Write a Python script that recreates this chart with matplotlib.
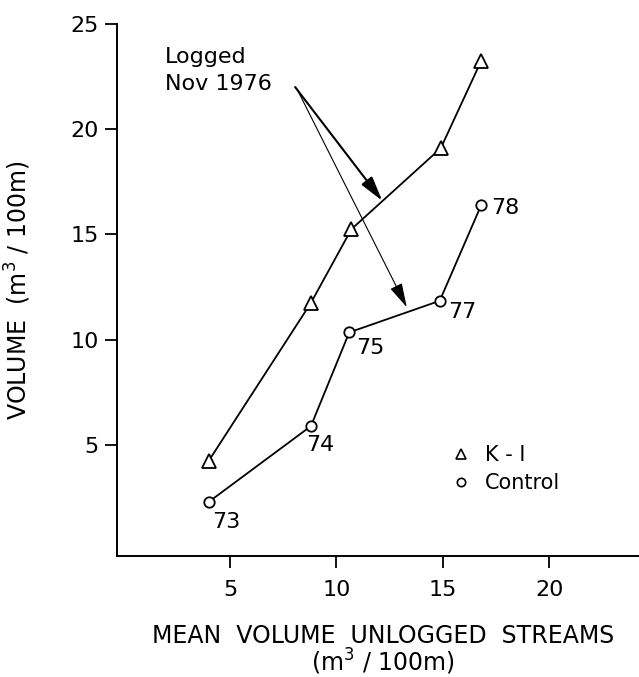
import matplotlib
matplotlib.use("Agg")
import matplotlib.pyplot as plt
from matplotlib.lines import Line2D

# Data
unlogged_k1 = [4.0, 8.8, 10.7, 14.9, 16.8]
volume_k1 = [4.25, 11.75, 15.25, 19.1, 23.25]
unlogged_ctrl = [4.0, 8.8, 10.6, 14.85, 16.8]
volume_ctrl = [2.3, 5.9, 10.35, 11.85, 16.4]
ctrl_labels = ["73", "74", "75", "77", "78"]
x_ticks = [5, 10, 15, 20]
y_ticks = [5, 10, 15, 20, 25]
legend_labels = ["K - I", "Control"]

plt.rcParams['font.family'] = ['DejaVu Sans']

fig = plt.figure(figsize=(6.39, 6.77), dpi=100)
ax = fig.add_axes([0.1837, 0.1787, 0.816, 0.786])

ax.plot(unlogged_k1, volume_k1, color='black', lw=1.3, marker='^', ms=9.5,
        mfc='white', mec='black', mew=1.3, zorder=3)
ax.plot(unlogged_ctrl, volume_ctrl, color='black', lw=1.3, marker='o', ms=7.5,
        mfc='white', mec='black', mew=1.3, zorder=3)

# year labels for control series (positions relative to the points)
offsets = [(0.8, -0.95), (0.45, -0.9), (1.0, -0.75), (1.07, -0.52), (1.15, -0.15)]
for x, y, lab, (dx, dy) in zip(unlogged_ctrl, volume_ctrl, ctrl_labels, offsets):
    ax.text(x + dx, y + dy, lab, fontsize=16, ha='center', va='center')

# Annotation
ax.text(1.95, 23.15, "Logged", fontsize=16, ha='left', va='baseline')
ax.text(1.95, 21.85, "Nov 1976", fontsize=16, ha='left', va='baseline')
ax.annotate("", xy=(12.15, 16.6), xytext=(8.06, 22.0),
            arrowprops=dict(arrowstyle='-|>,head_length=1.5,head_width=0.4',
                            color='black', lw=1.5, shrinkA=0, shrinkB=0))
ax.annotate("", xy=(13.3, 11.55), xytext=(8.15, 21.9),
            arrowprops=dict(arrowstyle='-|>,head_length=1.5,head_width=0.4',
                            color='black', lw=0.8, shrinkA=0, shrinkB=0))

# Legend
handles = [Line2D([], [], ls='none', marker='^', ms=7.5, mfc='white', mec='black', mew=1.2),
           Line2D([], [], ls='none', marker='o', ms=6, mfc='white', mec='black', mew=1.2)]
ax.legend(handles, legend_labels, loc='center left',
          bbox_to_anchor=(0.643, 0.163), frameon=False, fontsize=15,
          handlelength=0.8, handletextpad=0.75, labelspacing=0.4,
          borderaxespad=0, borderpad=0)

ax.set_xlim(-0.29, 24.2)
ax.set_ylim(-0.27, 25)
ax.set_xticks(x_ticks)
ax.set_yticks(y_ticks)
ax.tick_params(axis='both', direction='out', length=8.5, width=1.3, labelsize=16)
ax.tick_params(axis='x', pad=9)
ax.tick_params(axis='y', pad=5)
for s in ['top', 'right']:
    ax.spines[s].set_visible(False)
for s in ['left', 'bottom']:
    ax.spines[s].set_linewidth(1.4)

ax.set_xlabel("MEAN  VOLUME  UNLOGGED  STREAMS\n(m$^3$ / 100m)", fontsize=17,
              linespacing=0.95)
ax.xaxis.set_label_coords(0.509, -0.128)
ax.xaxis.label.set_va('top')
ax.set_ylabel("VOLUME  (m$^3$ / 100m)", fontsize=17)
ax.yaxis.set_label_coords(-0.162, 0.5)

fig.savefig("out.png", dpi=100)
